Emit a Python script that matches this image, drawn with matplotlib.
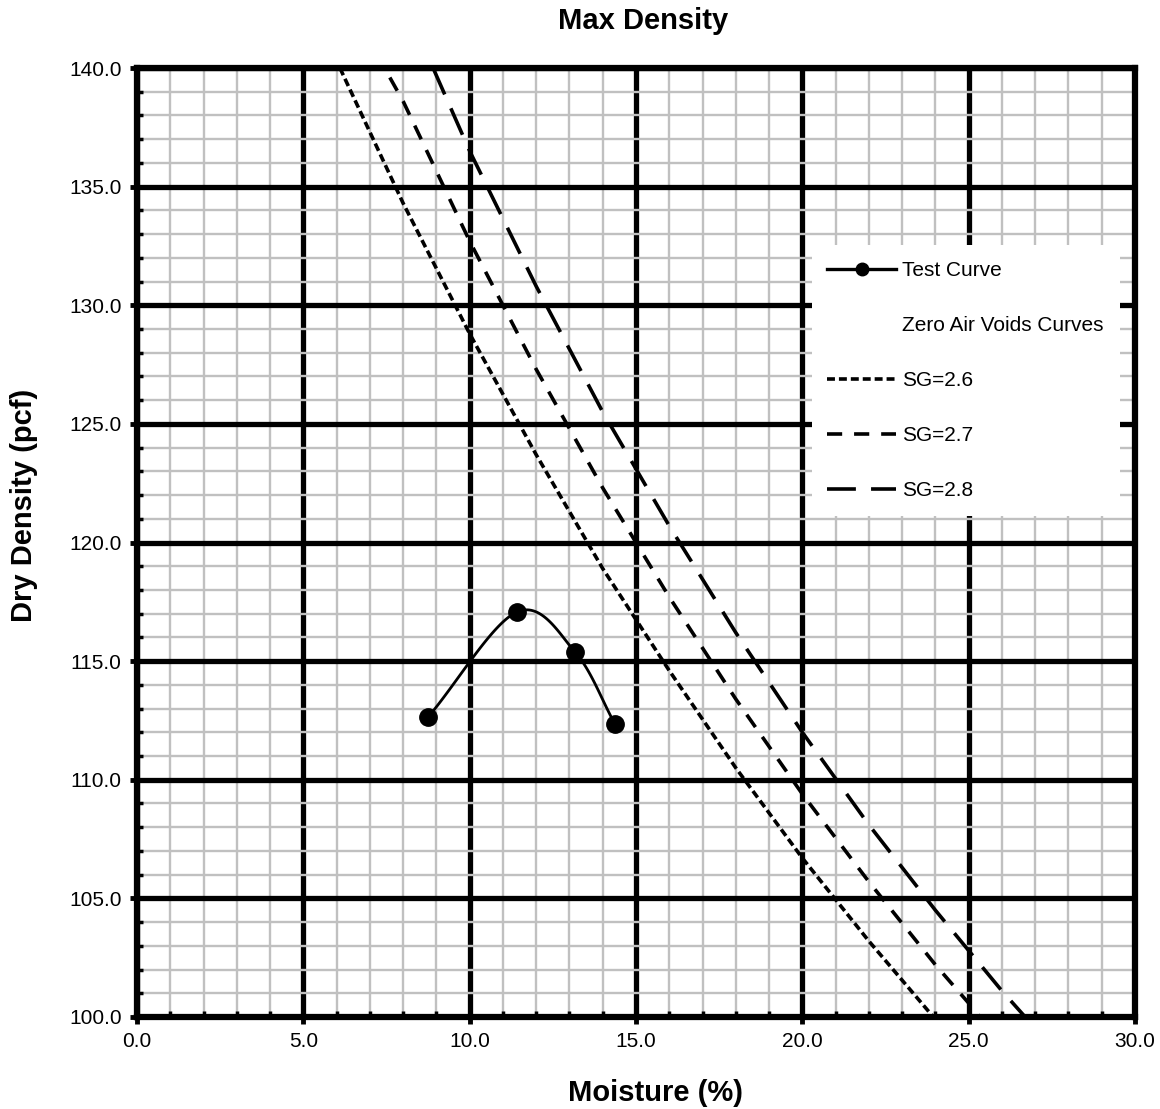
import numpy as np
import matplotlib
matplotlib.use("Agg")
import matplotlib.pyplot as plt
from matplotlib.lines import Line2D
from matplotlib.ticker import MultipleLocator

plt.rcParams['font.family'] = ['Liberation Sans', 'DejaVu Sans']

# test points
test_w = [8.75, 11.42, 13.17, 14.37]
test_d = [112.64, 117.07, 115.38, 112.34]

# zero air voids curves
sg26_w = [6.1, 8.0, 10.0, 12.0, 14.0, 16.0, 18.0, 20.0, 22.0, 24.0]
sg26_d = [140.0, 134.3, 128.8, 123.7, 118.9, 114.6, 110.5, 106.7, 103.2, 99.9]
sg27_w = [7.6, 8.0, 10.0, 12.0, 14.0, 16.0, 18.0, 20.0, 22.0, 24.0, 25.3]
sg27_d = [139.6, 138.6, 132.7, 127.3, 122.3, 117.7, 113.4, 109.4, 105.7, 102.2, 100.1]
sg28_w = [8.9, 10.0, 12.0, 14.0, 16.0, 18.0, 20.0, 22.0, 24.0, 26.0, 26.7]
sg28_d = [140.0, 136.5, 130.8, 125.5, 120.7, 116.2, 112.0, 108.1, 104.5, 101.1, 100.0]


def smooth(x, y, n=40):
    # catmull-rom through the points, like the spreadsheet "smoothed line"
    x = np.asarray(x, float)
    y = np.asarray(y, float)
    px = np.concatenate([[2*x[0]-x[1]], x, [2*x[-1]-x[-2]]])
    py = np.concatenate([[2*y[0]-y[1]], y, [2*y[-1]-y[-2]]])
    xs, ys = [], []
    t = np.linspace(0, 1, n)
    for i in range(1, len(px)-2):
        for p, out in ((px, xs), (py, ys)):
            p0, p1, p2, p3 = p[i-1], p[i], p[i+1], p[i+2]
            out.extend(0.5*((2*p1) + (-p0+p2)*t + (2*p0-5*p1+4*p2-p3)*t**2
                            + (-p0+3*p1-3*p2+p3)*t**3))
    return np.array(xs), np.array(ys)


fig = plt.figure(figsize=(11.6, 11.09), dpi=100)
ax = fig.add_axes([137/1160, 1-1017/1109, 998/1160, 949/1109])

ax.set_xlim(0, 30)
ax.set_ylim(100, 140)
ax.xaxis.set_major_locator(MultipleLocator(5))
ax.xaxis.set_minor_locator(MultipleLocator(1))
ax.yaxis.set_major_locator(MultipleLocator(5))
ax.yaxis.set_minor_locator(MultipleLocator(1))
ax.xaxis.set_major_formatter(lambda v, p: f"{v:.1f}")
ax.yaxis.set_major_formatter(lambda v, p: f"{v:.1f}")

ax.grid(which='minor', color='#c0c0c0', lw=1.7, zorder=0)
ax.grid(which='major', color='black', lw=3.8, zorder=1)
ax.set_axisbelow(True)
for s in ax.spines.values():
    s.set_linewidth(4.5)
ax.tick_params(which='major', direction='out', length=5, width=3.5,
               labelsize=15, pad=6)
ax.tick_params(which='minor', direction='in', length=4, width=2.5)

lw = 2.6
ls26 = (0, (2.2, 1.1))
ls27 = (0, (4.2, 3.3))
ls28 = (0, (8.0, 4.2))
ax.plot(sg26_w, sg26_d, color='black', lw=lw, ls=ls26, zorder=3)
ax.plot(sg27_w, sg27_d, color='black', lw=lw, ls=ls27, zorder=3)
ax.plot(sg28_w, sg28_d, color='black', lw=lw, ls=ls28, zorder=3)

sx, sy = smooth(test_w, test_d)
ax.plot(sx, sy, color='black', lw=2.0, zorder=4)
ax.plot(test_w, test_d, 'o', color='black', ms=12.5, zorder=5)

handles = [
    Line2D([], [], color='black', lw=2.4, marker='o', ms=9),
    Line2D([], [], color='none'),
    Line2D([], [], color='black', lw=lw, ls=ls26),
    Line2D([], [], color='black', lw=lw, ls=ls27),
    Line2D([], [], color='black', lw=lw, ls=ls28),
]
labels = ['Test Curve', 'Zero Air Voids Curves', 'SG=2.6', 'SG=2.7', 'SG=2.8']
leg = ax.legend(handles, labels, loc='upper right',
                bbox_to_anchor=(1130/1160, 1-235/1109),
                bbox_transform=fig.transFigure, fontsize=15,
                frameon=True, fancybox=False, edgecolor='none',
                facecolor='white', framealpha=1, handlelength=3.3,
                handletextpad=0.3, labelspacing=1.73, borderpad=0.75)
leg.set_zorder(6)

fig.text(643/1160, 1-29/1109, 'Max Density', ha='center', va='baseline',
         fontsize=21, fontweight='bold')
fig.text(655/1160, 1-1101/1109, 'Moisture (%)', ha='center', va='baseline',
         fontsize=21, fontweight='bold')
fig.text(24/1160, 1-505/1109, 'Dry Density (pcf)', ha='center', va='center',
         fontsize=21, fontweight='bold', rotation=90)

fig.savefig('out.png', dpi=100)
